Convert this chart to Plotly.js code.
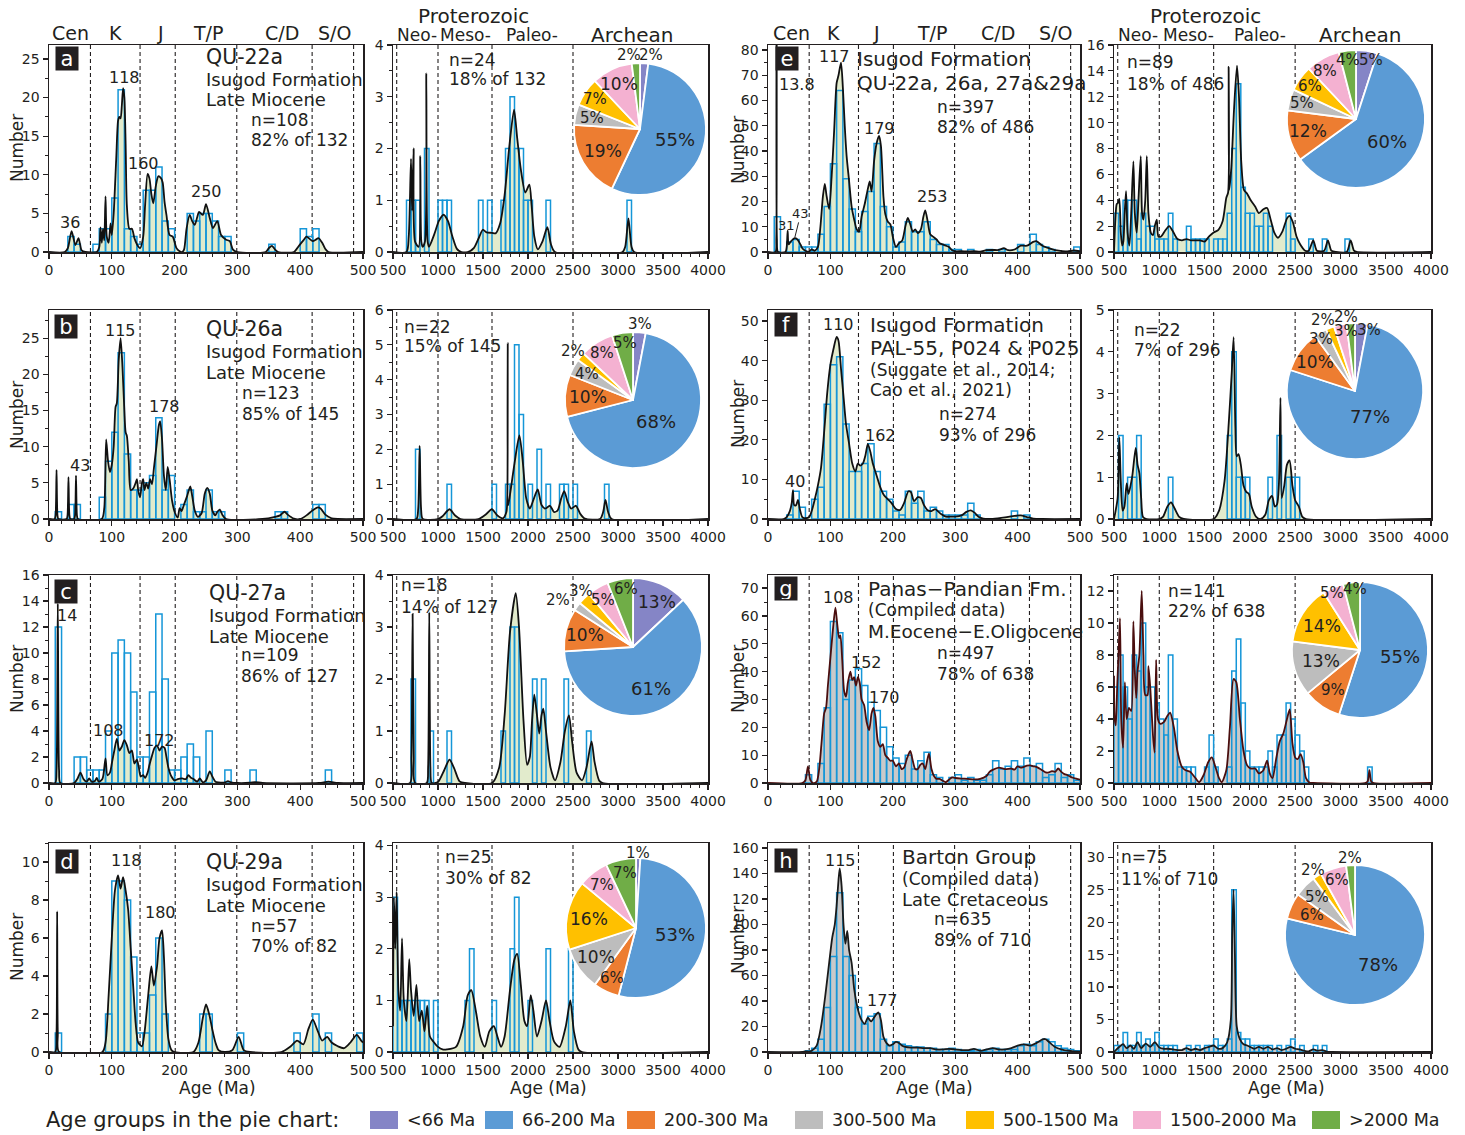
<!DOCTYPE html>
<html><head><meta charset="utf-8">
<script src="https://cdn.plot.ly/plotly-3.0.1.min.js"></script>
<style>html,body{margin:0;padding:0;background:#fff}#chart{width:1465px;height:1135px}</style>
</head><body><div id="chart"></div>
<script>
// ---------------- DATA ----------------
// Histogram bins: start age (Ma) and count; young panels 10 Ma bins, old panels 50 Ma bins
const aYoungBinStart=[30,40,70,80,90,100,110,120,130,140,150,160,170,180,190,220,230,240,250,260,270,280,350,400,410,420];
const aYoungCount=[2,1,1,3,3,7,21,3,2,1,8,8,11,4,3,5,4,5,5,4,2,2,1,3,2,3];
const aYoungKde=[[0,0],[25,0],[30,0.5],[36,2.7],[42,0.9],[47,1.8],[52,0.2],[58,0],[76,0],[80,0.6],[82,3.2],[84,1.2],[86,3],[88,1.5],[90,7.2],[92,2],[95,1.2],[98,3.7],[100,2.2],[103,5],[107,12],[110,17],[112,17.5],[114,17.3],[116,19],[118,21.2],[120,20],[122,14],[124,6],[128,3],[132,3],[136,1.8],[140,1],[145,0.5],[150,2],[153,6],[157,10.1],[160,9.5],[163,7.5],[166,6.3],[170,8.5],[174,9.8],[178,9.6],[181,9],[184,6.5],[187,4.8],[192,2.2],[197,2],[203,0.5],[208,0.1],[212,0],[215,0.3],[219,3],[224,4.8],[228,4],[232,3.5],[236,4.5],[239,5.2],[245,4.8],[250,6.2],[256,4.4],[261,3.1],[268,4],[274,2.2],[282,1.6],[288,1.4],[293,0.3],[300,0],[345,0],[350,0.5],[355,0.8],[360,0.3],[365,0],[390,0],[398,0.8],[405,1.5],[410,2],[415,1.7],[420,1.4],[425,1.6],[429,1.8],[435,1.2],[440,0.4],[445,0],[500,0]];
const aOldBinStart=[650,700,750,850,1000,1050,1100,1450,1550,1700,1750,1800,1850,1900,1950,2000,2200,3100];
const aOldCount=[1,1,1,2,1,1,1,1,1,1,2,3,2,2,1,1,1,1];
const aOldKde=[[500,0],[650,0],[675,0.3],[700,1.8],[712,0.8],[729,2.0],[745,0.2],[785,0.1],[803,1.85],[815,0.2],[830,0.1],[855,0.2],[870,3.45],[885,0.2],[900,0.1],[960,0.35],[1010,0.6],[1062,0.72],[1110,0.6],[1160,0.3],[1210,0.06],[1260,0],[1330,0],[1400,0.08],[1460,0.3],[1498,0.43],[1540,0.38],[1600,0.37],[1640,0.36],[1690,0.55],[1740,1.1],[1790,2.0],[1845,2.75],[1880,2.2],[1920,1.6],[1970,1.15],[2015,1.3],[2040,0.9],[2070,0.3],[2110,0.05],[2160,0.2],[2215,0.48],[2255,0.15],[2300,0],[3050,0],[3080,0.1],[3116,0.65],[3150,0.1],[3180,0],[4000,0]];

const bYoungBinStart=[10,30,40,80,90,100,110,120,130,140,150,160,170,180,190,210,220,230,240,250,260,270,360,370,420,430];
const bYoungCount=[1,2,2,3,8,12,23,9,4,4,5,6,14,4,6,2,4,1,1,4,1,1,1,1,2,2];
const bYoungKde=[[0,0],[9,0],[10.5,0.5],[12,6.8],[13.5,0.5],[15,0],[28,0],[29.5,0.5],[31,5.8],[32.5,0.5],[34,0],[40,0],[41.5,0.5],[43,6],[44.5,0.5],[46,0],[84,0],[88,1.5],[91,11],[94,8],[97,6.5],[100,7.5],[103,10],[106,15.5],[108,16],[111,22],[114,25],[117,21],[120,15],[122,12],[124,11.5],[127,8],[130,4],[134,4.2],[138,5],[140,5.5],[142,4],[145,3],[148,5],[150,5.5],[152,4],[155,5],[158,4.2],[161,5.5],[164,4.8],[167,7],[171,10],[175,13],[177,13.5],[180,11],[183,6],[186,4],[189,7.2],[192,5.5],[196,2.5],[200,1],[205,0.2],[208,1.5],[211,1.1],[215,2],[220,3.2],[225,4.5],[228,3.2],[232,1.2],[237,0.3],[243,0.8],[248,3.5],[252,4.3],[256,3.5],[260,1.2],[265,0.5],[268,1],[272,1.3],[276,0.6],[282,0],[340,0],[360,0.3],[368,0.5],[375,1],[380,0.6],[390,0.05],[400,0],[410,0.5],[420,1.2],[428,1.6],[432,1.5],[440,0.6],[450,0.1],[460,0],[500,0]];
const bOldBinStart=[750,1100,1600,1750,1800,1850,1900,2000,2100,2200,2350,2400,2500,2850];
const bOldCount=[2,1,1,1,1,5,3,1,2,1,1,1,1,1];
const bOldKde=[[500,0],[760,0],[780,0.3],[796,2.1],[812,0.3],[830,0],[1000,0],[1050,0.08],[1128,0.28],[1190,0.1],[1250,0],[1450,0],[1540,0.15],[1598,0.28],[1660,0.1],[1720,0.02],[1760,0.2],[1770,0.6],[1775,5.05],[1780,0.4],[1800,0.7],[1850,1.6],[1904,2.4],[1940,1.7],[1980,0.6],[2020,0.3],[2060,0.55],[2108,0.85],[2150,0.4],[2190,0.3],[2244,0.38],[2290,0.2],[2330,0.25],[2370,0.6],[2403,0.8],[2440,0.5],[2480,0.3],[2533,0.38],[2580,0.15],[2630,0.01],[2800,0],[2835,0.2],[2861,0.55],[2890,0.2],[2930,0],[4000,0]];

const cYoungBinStart=[10,40,50,60,70,80,90,100,110,120,130,140,150,160,170,180,190,200,210,220,230,250,280,320,440];
const cYoungCount=[12,2,2,1,1,1,4,10,11,10,7,2,2,7,13,8,1,1,2,3,2,4,1,1,1];
const cYoungKde=[[0,0],[10,0],[12,1],[14,13.8],[16,1],[18,0],[40,0],[45,0.3],[50,0.8],[55,0.3],[60,0.1],[64,0.35],[68,0.1],[73,0.15],[76,0.4],[79,0.1],[85,0.3],[90,1.9],[93,0.6],[97,0.8],[100,1.5],[104,2.5],[108,3.4],[112,2.5],[116,2.8],[120,3.3],[124,2.9],[128,2.3],[132,2.5],[136,1.5],[140,1.8],[143,1.2],[146,0.5],[150,0.6],[153,0.4],[157,0.8],[160,1.4],[164,2.1],[168,2.7],[172,2.9],[176,2.5],[180,2.8],[184,2.7],[187,2],[190,1.2],[195,0.5],[200,0.2],[205,0.3],[212,0.35],[218,0.3],[222,0.6],[226,0.4],[230,0.3],[236,0.1],[240,0.35],[245,0.05],[250,0.2],[256,0.9],[260,0.5],[265,0.1],[270,0.05],[280,0.05],[285,0.15],[290,0.05],[300,0],[320,0.02],[328,0.07],[340,0],[430,0],[445,0.1],[460,0],[500,0]];
const cOldBinStart=[700,900,1100,1700,1800,1850,2050,2150,2400,2650];
const cOldCount=[2,1,1,1,3,3,2,2,2,1];
const cOldKde=[[500,0],[690,0],[705,0.5],[718,3.25],[731,0.5],[745,0],[875,0],[890,0.3],[903,3.28],[916,0.3],[930,0],[1000,0.02],[1070,0.25],[1128,0.45],[1180,0.28],[1240,0.03],[1300,0],[1600,0],[1680,0.3],[1740,1.3],[1800,2.9],[1864,3.65],[1900,3.0],[1950,1.2],[1990,0.35],[2020,0.5],[2045,1.2],[2070,1.7],[2100,1.3],[2125,0.95],[2150,1.3],[2170,1.43],[2200,1.0],[2250,0.3],[2300,0.05],[2360,0.4],[2410,1.0],[2455,1.3],[2490,0.8],[2540,0.2],[2600,0.05],[2650,0.3],[2706,0.8],[2740,0.4],[2790,0.05],[2830,0],[4000,0]];

const dYoungBinStart=[10,90,100,110,120,130,140,150,160,170,180,240,250,300,390,420,440,490];
const dYoungCount=[1,2,9,9,8,5,1,1,3,6,2,2,2,1,1,2,1,1];
const dYoungKde=[[0,0],[10,0],[12,1],[13,7.4],[14,1],[16,0],[85,0],[90,0.5],[95,3],[100,6],[105,8.5],[110,9.3],[114,8.6],[118,9.2],[122,8.5],[126,7.5],[130,5.5],[134,3.5],[138,1.5],[142,0.5],[148,0.3],[152,1],[158,3],[163,4.5],[167,3.5],[172,4.5],[176,6],[180,6.4],[183,5],[186,2.5],[190,0.7],[195,0.1],[200,0],[230,0],[238,0.5],[245,1.8],[250,2.5],[255,2],[260,1.2],[265,0.5],[270,0.1],[280,0],[292,0.1],[302,0.8],[310,0.1],[320,0],[370,0],[385,0.3],[395,0.6],[405,0.4],[413,1.2],[420,1.7],[428,1.1],[435,0.6],[443,0.8],[450,0.5],[460,0.3],[470,0.2],[480,0.5],[490,0.9],[497,0.6],[500,0.5]];
const dOldBinStart=[500,550,600,650,700,750,800,850,950,1300,1350,1600,1800,1850,2000,2200,2450];
const dOldCount=[3,1,1,1,1,1,1,1,1,1,2,1,2,3,1,2,2];
const dOldKde=[[500,0.5],[510,3.0],[525,2.0],[540,3.1],[560,1.2],[580,0.8],[600,2.2],[620,1.0],[650,0.6],[680,1.8],[700,1.2],[730,0.7],[760,1.3],[790,0.6],[820,0.8],[850,0.4],[880,0.9],[910,0.3],[950,0.2],[1000,0.1],[1050,0.05],[1100,0.05],[1200,0.1],[1280,0.5],[1330,1.1],[1370,1.2],[1420,0.8],[1470,0.3],[1520,0.1],[1570,0.4],[1620,0.5],[1660,0.3],[1700,0.1],[1740,0.3],[1800,1.2],[1850,1.8],[1880,1.9],[1920,1.3],[1960,0.6],[1990,0.5],[2030,1.1],[2060,0.8],[2100,0.3],[2150,0.6],[2200,1.0],[2240,0.6],[2290,0.2],[2350,0.1],[2420,0.5],[2470,1.0],[2510,0.4],[2560,0.05],[2600,0],[4000,0]];

const eYoungBinStart=[10,30,40,50,60,70,80,90,100,110,120,130,140,150,160,170,180,190,200,210,220,230,240,250,260,270,280,290,300,320,350,370,400,420,430,440,450,490];
const eYoungCount=[14,4,5,2,2,2,7,18,35,64,29,17,8,16,24,43,18,10,2,4,12,8,8,12,5,3,3,1,1,1,1,1,3,7,3,2,1,2];
const eYoungKde=[[0,0],[12,0],[13.3,5],[13.8,120],[14.3,5],[16,0],[28,0],[30,2],[31.5,8.5],[33,3],[36,4],[40,5],[43,5.5],[47,5],[52,3],[55,1.5],[60,0.5],[65,0],[70,1],[75,0.5],[80,2],[84,10],[88,22],[91,27],[94,22],[98,17],[102,30],[106,48],[110,67],[113,70],[117,75],[120,65],[123,50],[126,38],[130,28],[134,18],[138,13],[142,9],[146,8],[150,14],[155,19],[160,25],[163,28],[166,24],[170,36],[174,43],[178,46],[181,42],[185,22],[188,15],[192,12],[196,11],[200,6],[205,2],[210,3.5],[215,4.5],[220,10],[224,13.5],[228,11],[232,8],[236,9],[240,7.5],[245,9],[249,14],[252,16.5],[256,12],[260,7],[265,6],[270,5],[275,3.5],[280,3],[285,2.5],[290,2],[295,0.7],[300,0.3],[310,0.3],[320,0.2],[330,0.3],[340,0.1],[350,0.7],[360,0.8],[370,0.8],[378,1.5],[385,0.7],[395,1],[405,2.5],[415,2.5],[425,4],[430,4.3],[440,2.5],[450,1.5],[460,0.7],[470,0.4],[480,0.2],[490,0.6],[500,0.3]];
const eOldBinStart=[500,550,600,650,700,750,800,850,900,950,1000,1050,1100,1150,1300,1350,1400,1450,1500,1600,1650,1700,1750,1800,1850,1900,1950,2000,2050,2100,2150,2200,2400,2450,2650,2800,3050];
const eOldCount=[3,2,4,4,4,1,3,2,2,1,1,1,3,1,2,1,1,1,1,1,1,1,3,8,13,5,3,3,2,2,3,2,3,1,1,1,1];
const eOldKde=[[500,0],[515,2.5],[530,3.7],[545,3.8],[559,4.1],[575,1.5],[590,0.5],[603,0.8],[618,3],[633,4.7],[650,1.5],[670,0.5],[690,3],[714,7.0],[730,3],[751,1.5],[770,4],[795,7.4],[810,3],[825,2.5],[845,4],[862,7.4],[880,3],[906,1.5],[930,1.3],[950,2],[972,2.5],[990,1.2],[1020,1.2],[1060,1.6],[1109,2.0],[1150,1.6],[1200,1.0],[1250,0.9],[1300,1.0],[1350,0.9],[1400,0.9],[1450,0.9],[1500,0.8],[1550,1.2],[1600,1.5],[1650,1.7],[1700,2.4],[1740,4.2],[1760,4.6],[1766,14.3],[1772,4.8],[1795,6.5],[1825,11],[1858,14.4],[1880,12],[1905,7],[1935,4.8],[1970,4.5],[2010,4],[2060,3.5],[2100,3],[2150,3.3],[2190,3.4],[2230,2.5],[2270,1.5],[2310,1.1],[2360,1.6],[2410,2.6],[2438,2.8],[2475,2.3],[2515,1.2],[2555,0.6],[2610,0.1],[2650,0.1],[2700,0.9],[2740,0.1],[2820,0.1],[2862,0.9],[2900,0.1],[2950,0],[3070,0],[3113,0.9],[3150,0.1],[3180,0],[4000,0]];

const fYoungBinStart=[30,40,50,70,80,90,100,110,120,130,140,150,160,170,180,190,200,210,220,230,240,250,260,270,280,290,300,310,320,330,390,410];
const fYoungCount=[1,7,3,5,8,29,39,41,24,12,12,14,19,12,7,5,2,1,7,4,7,2,3,2,1,1,1,1,4,1,2,1];
const fYoungKde=[[0,0],[25,0],[30,0.5],[35,2],[38,4],[40,7.3],[42,3.5],[45,3.5],[48,4.8],[51,2.5],[55,0.5],[60,0.2],[66,0.5],[70,2],[75,5],[80,8.5],[85,13],[90,22],[95,32],[100,39],[105,43],[110,46],[113,45],[117,38],[121,31],[125,24],[130,19],[135,14],[140,12],[144,14],[148,13.5],[152,14],[156,16],[160,19],[164,17],[168,14],[172,12],[176,10],[180,8],[186,6],[192,5],[198,4],[205,2.5],[212,2.3],[218,4],[225,7],[229,6.8],[234,4.5],[240,5.5],[245,5.3],[250,3.5],[256,2.2],[262,2],[268,2.5],[272,2],[278,1.2],[285,0.6],[292,0.6],[300,0.6],[310,0.9],[318,1.8],[325,2.2],[331,1.6],[338,0.5],[345,0.1],[360,0.05],[380,0.4],[395,0.8],[405,0.9],[415,0.5],[425,0.1],[440,0],[500,0]];
const fOldBinStart=[550,650,700,750,1100,1750,1800,1850,1900,1950,2200,2300,2400,2450,2500];
const fOldCount=[2,1,1,2,1,2,4,1,1,1,1,2,1,1,1];
const fOldKde=[[500,0],[540,0.5],[559,1.95],[575,0.9],[595,0.2],[615,0.3],[640,0.85],[660,0.6],[700,1.0],[740,1.7],[760,1.3],[780,1.1],[800,0.5],[820,0.05],[860,0],[1000,0],[1040,0.05],[1090,0.3],[1130,0.4],[1170,0.25],[1220,0.05],[1270,0],[1600,0],[1660,0.2],[1720,0.9],[1770,2.4],[1800,3.5],[1821,4.35],[1840,2.2],[1855,1.5],[1875,1.55],[1900,1.3],[1930,0.8],[1960,0.65],[1990,0.6],[2020,0.3],[2070,0.05],[2120,0],[2170,0.1],[2210,0.45],[2246,0.55],[2275,0.3],[2300,0.35],[2320,0.8],[2338,2.9],[2352,0.5],[2380,0.8],[2410,1.3],[2438,1.4],[2470,0.8],[2500,0.45],[2540,0.3],[2580,0.05],[2620,0],[4000,0]];

const gYoungBinStart=[60,80,90,100,110,120,130,140,150,160,170,180,190,200,210,220,230,240,250,260,270,290,300,310,320,330,340,350,360,370,380,390,400,410,420,430,440,450,460,470,480,490];
const gYoungCount=[3,7,27,58,54,30,37,41,35,29,26,20,13,9,7,10,5,8,11,3,2,2,3,1,2,1,1,3,8,5,6,8,6,9,6,7,2,3,7,2,3,1];
const gYoungKde=[[0,0],[55,0],[60,1],[64,6],[68,1],[72,0],[78,0.5],[82,5],[86,15],[90,25],[93,27],[96,35],[100,45],[104,55],[108,63],[111,57],[114,52],[116,53],[119,44],[122,33],[125,31],[128,36],[132,40],[135,37],[138,38],[141,35],[144,38],[147,36],[150,30],[154,28],[158,22],[162,19],[166,25],[169,27],[172,24],[176,15],[180,13],[184,14],[188,10],[192,9],[196,8],[200,8],[205,6],[210,7],[214,5],[218,5.5],[223,9],[228,11.5],[232,8],[236,5],[240,5],[244,6.5],[248,7],[252,5],[255,8],[258,10.5],[262,5],[266,2.5],[270,1.5],[275,1.5],[280,0.8],[285,0.3],[290,1.2],[295,2],[300,1.8],[310,1.6],[320,1.5],[330,1.3],[340,1.5],[350,2.5],[355,4],[360,4.7],[370,5.5],[380,5],[390,5.2],[395,4.8],[400,6],[405,5.5],[410,5.8],[415,6.2],[420,6.3],[425,6],[430,5.8],[435,5.2],[440,4.5],[445,3.8],[450,3.8],[455,4.3],[460,4],[465,5.2],[470,4],[475,3.2],[480,2.8],[485,2.2],[490,1.8],[495,1.5],[500,1.2]];
const gOldBinStart=[500,550,600,650,700,750,800,850,900,950,1000,1050,1100,1150,1200,1250,1300,1350,1500,1550,1600,1750,1800,1850,1900,1950,2000,2050,2100,2150,2200,2250,2300,2350,2400,2450,2500,2550,2600,3300];
const gOldCount=[6,8,6,4,8,7,10,6,6,5,4,3,8,4,1,1,1,1,1,3,1,1,7,9,5,2,1,1,1,1,2,1,3,3,5,4,3,2,1,1];
const gOldKde=[[500,6.7],[508,4],[520,3.6],[535,6],[550,8],[566,10.3],[580,4],[600,2.2],[620,6.3],[640,4],[665,4.7],[690,4.5],[714,10.1],[730,7],[745,5.3],[760,7],[780,8],[806,12],[825,8],[845,5.5],[870,5.5],[880,7.3],[900,6],[930,3],[948,1.9],[965,7.7],[985,4],[1010,3.7],[1050,3.8],[1090,4.2],[1120,4.4],[1160,3.5],[1200,2],[1250,1],[1290,0.8],[1340,0.7],[1400,0.3],[1440,0.05],[1490,0.5],[1540,1.3],[1580,1.6],[1620,1.0],[1660,0.3],[1690,0.05],[1740,0.8],[1780,3.5],[1820,6.5],[1850,6.3],[1890,4],[1930,2],[1970,1.1],[2010,0.9],[2060,0.9],[2100,0.6],[2150,0.8],[2190,1.4],[2220,0.6],[2250,0.3],[2290,1.5],[2330,2.6],[2370,3.1],[2410,4],[2440,4.6],[2470,2.5],[2500,1.6],[2530,1.5],[2560,1.8],[2590,1.3],[2620,0.3],[2660,0.02],[2700,0],[3270,0],[3300,0.1],[3320,0.8],[3340,0.1],[3370,0],[4000,0]];

const hYoungBinStart=[60,70,80,90,100,110,120,130,140,150,160,170,180,190,200,210,220,230,240,250,260,270,280,290,300,310,320,330,340,350,360,370,380,390,400,410,420,430,440,450,460,470,480,490];
const hYoungCount=[1,3,10,35,75,125,75,60,35,22,28,30,10,5,8,6,5,4,4,3,3,2,2,3,2,1,1,2,1,2,3,2,2,2,5,6,5,8,10,8,5,3,2,1];
const hYoungKde=[[0,0],[55,0],[60,0.5],[65,0.3],[70,1],[78,5],[85,20],[92,45],[98,70],[103,90],[107,100],[110,115],[113,135],[115,144],[118,130],[121,100],[124,85],[127,95],[130,80],[134,70],[138,50],[142,38],[146,30],[150,25],[155,22],[160,27],[165,24],[170,27],[174,30],[177,31],[181,25],[185,12],[190,7],[195,5],[200,6],[205,8],[210,7],[215,5],[220,4],[230,3.5],[240,3.5],[250,3],[260,3],[270,2],[280,2],[290,2.5],[300,2],[310,1.5],[320,1.5],[330,2.5],[340,1],[350,2],[360,3],[370,2],[380,2],[390,3],[400,5],[410,6],[420,5],[430,7],[440,10],[445,10],[450,8],[460,4],[470,2],[480,1],[490,0.5],[500,0.3]];
const hOldBinStart=[500,550,600,650,700,750,800,850,900,950,1000,1050,1100,1150,1300,1400,1500,1550,1600,1650,1700,1750,1800,1850,1900,1950,2000,2050,2100,2150,2200,2300,2400,2450,2550,2700,2800];
const hOldCount=[1,1,3,1,1,3,1,2,1,3,1,1,1,1,1,1,1,1,2,1,1,2,25,3,2,2,1,1,1,1,1,1,1,2,1,1,1];
const hOldKde=[[500,0],[520,0.3],[560,0.8],[600,1.2],[640,0.6],[680,1.0],[720,0.5],[760,1.5],[800,0.6],[850,1.3],[900,0.8],[950,1.5],[1000,0.7],[1050,0.5],[1100,0.5],[1150,0.4],[1200,0.3],[1250,0.3],[1300,0.6],[1350,0.3],[1400,0.5],[1450,0.3],[1500,0.6],[1550,0.8],[1600,1.0],[1650,0.5],[1700,0.6],[1750,1.5],[1790,5],[1805,18],[1820,25],[1835,15],[1855,4],[1890,2],[1930,1.2],[1970,1],[2000,0.8],[2050,0.5],[2100,0.8],[2150,0.5],[2200,0.8],[2250,0.4],[2300,0.6],[2350,0.3],[2400,0.5],[2450,0.8],[2500,0.5],[2550,0.4],[2600,0.2],[2650,0.1],[2700,0.4],[2750,0.2],[2800,0.3],[2850,0.05],[2900,0],[4000,0]];

// Pie data (%): order = ageGroups
const ageGroups=['<66 Ma','66-200 Ma','200-300 Ma','300-500 Ma','500-1500 Ma','1500-2000 Ma','>2000 Ma'];
const pieA=[2,55,19,5,7,10,2];
const pieB=[3,68,10,4,2,8,5];
const pieC=[13,61,10,2,3,5,6];
const pieD=[1,53,6,10,16,7,7];
const pieE=[5,60,12,5,6,8,4];
const pieF=[3,77,10,3,2,3,2];
const pieG=[0,55,9,13,14,5,4];
const pieH=[0,78,6,5,2,6,2];

const youngBounds=[66,145,201,299,419,485];
const oldBounds=[541,1000,1600,2500];

// ---------------- LAYOUT / STYLE ----------------
const W=1465,H=1135;
const FONT='DejaVu Sans, Liberation Sans, Arial, sans-serif';
const TXT='#231f20';
const BAR='#1596d8';
const groupColors=['#8585c6','#5b9bd5','#ed7d31','#bdbdbd','#ffc000','#f4b1d1','#70ad47'];
const colX=[[49,363],[393,708],[768,1080],[1114,1431]];
const rowY=[[45,252],[310,519],[575,783],[843,1052]];
const GREEN={fill:'#e2ebcc',line:'#111111'};
const GREY={fill:'#c9c9c9',line:'#4a0e0e'};
const GREY2={fill:'#c9c9c9',line:'#1a1a1a'};

const panels=[
 {c:0,r:0,s:aYoungBinStart,n:aYoungCount,k:aYoungKde,ymax:26.8,dt:5,st:GREEN},
 {c:1,r:0,s:aOldBinStart,n:aOldCount,k:aOldKde,ymax:4,dt:1,st:GREEN},
 {c:0,r:1,s:bYoungBinStart,n:bYoungCount,k:bYoungKde,ymax:28.9,dt:5,st:GREEN},
 {c:1,r:1,s:bOldBinStart,n:bOldCount,k:bOldKde,ymax:6,dt:1,st:GREEN},
 {c:0,r:2,s:cYoungBinStart,n:cYoungCount,k:cYoungKde,ymax:16,dt:2,st:GREEN},
 {c:1,r:2,s:cOldBinStart,n:cOldCount,k:cOldKde,ymax:4,dt:1,st:GREEN},
 {c:0,r:3,s:dYoungBinStart,n:dYoungCount,k:dYoungKde,ymax:11,dt:2,st:GREEN},
 {c:1,r:3,s:dOldBinStart,n:dOldCount,k:dOldKde,ymax:4.05,dt:1,st:GREEN},
 {c:2,r:0,s:eYoungBinStart,n:eYoungCount,k:eYoungKde,ymax:82,dt:10,st:GREEN},
 {c:3,r:0,s:eOldBinStart,n:eOldCount,k:eOldKde,ymax:16,dt:2,st:GREEN},
 {c:2,r:1,s:fYoungBinStart,n:fYoungCount,k:fYoungKde,ymax:52.8,dt:10,st:GREEN},
 {c:3,r:1,s:fOldBinStart,n:fOldCount,k:fOldKde,ymax:5,dt:1,st:GREEN},
 {c:2,r:2,s:gYoungBinStart,n:gYoungCount,k:gYoungKde,ymax:74.7,dt:10,st:GREY},
 {c:3,r:2,s:gOldBinStart,n:gOldCount,k:gOldKde,ymax:13,dt:2,st:GREY},
 {c:2,r:3,s:hYoungBinStart,n:hYoungCount,k:hYoungKde,ymax:164,dt:20,st:GREY2},
 {c:3,r:3,s:hOldBinStart,n:hOldCount,k:hOldKde,ymax:32.2,dt:5,st:GREY2}
];

const traces=[];
const layout={width:W,height:H,margin:{l:0,r:0,t:0,b:0},paper_bgcolor:'#fff',plot_bgcolor:'rgba(0,0,0,0)',
  showlegend:false,barmode:'overlay',shapes:[],annotations:[],font:{family:FONT,color:TXT}};
const nm=k=>k===1?'':String(k);

panels.forEach((p,i)=>{
  const k=i+1, ko=k+16;
  const xn='x'+nm(k), yn='y'+nm(k), yon='y'+ko;
  const young=(p.c%2===0);
  const xr=young?[0,500]:[500,4000];
  layout['xaxis'+nm(k)]={domain:[colX[p.c][0]/W,colX[p.c][1]/W],range:xr,anchor:yn,
    tickmode:'linear',tick0:young?0:500,dtick:young?100:500,ticks:'outside',ticklen:5,tickwidth:1.2,tickcolor:TXT,
    showline:true,linecolor:TXT,linewidth:1.5,mirror:true,showgrid:false,zeroline:false,fixedrange:true,
    tickfont:{family:FONT,size:14,color:TXT},
    minor:{dtick:young?20:100,ticks:'outside',ticklen:3,tickwidth:1,tickcolor:TXT,showgrid:false}};
  layout['yaxis'+nm(k)]={domain:[1-rowY[p.r][1]/H,1-rowY[p.r][0]/H],range:[0,p.ymax],anchor:xn,
    tickmode:'linear',tick0:0,dtick:p.dt,ticks:'outside',ticklen:5,tickwidth:1.2,tickcolor:TXT,
    showline:true,linecolor:TXT,linewidth:1.5,mirror:true,showgrid:false,zeroline:false,fixedrange:true,
    tickfont:{family:FONT,size:14,color:TXT},
    minor:{dtick:p.dt/2,ticks:'outside',ticklen:3,tickwidth:1,tickcolor:TXT,showgrid:false}};
  layout['yaxis'+ko]={overlaying:yn,range:[0,p.ymax],anchor:xn,visible:false,fixedrange:true};
  const kx=p.k.map(d=>d[0]), ky=p.k.map(d=>d[1]);
  traces.push({type:'scatter',mode:'lines',x:kx,y:ky,xaxis:xn,yaxis:yn,fill:'tozeroy',fillcolor:p.st.fill,
    line:{width:0,shape:'spline',smoothing:0.7},hoverinfo:'skip'});
  traces.push({type:'bar',x:p.s,y:p.n,xaxis:xn,yaxis:yon,width:young?10:50,offset:0,
    marker:{color:'rgba(0,0,0,0)',line:{color:BAR,width:1.5}},hoverinfo:'skip'});
  traces.push({type:'scatter',mode:'lines',x:kx,y:ky,xaxis:xn,yaxis:yon,
    line:{color:p.st.line,width:1.8,shape:'spline',smoothing:0.7},hoverinfo:'skip'});
  (young?youngBounds:oldBounds).forEach(b=>{
    layout.shapes.push({type:'line',xref:xn,yref:yn+' domain',x0:b,x1:b,y0:0,y1:1,layer:'below',
      line:{color:TXT,width:1.1,dash:'4px,3px'}});
  });
});

// annotations helper
function T(text,px,py,size,anchor,extra){
  return Object.assign({xref:'paper',yref:'paper',x:px/W,y:1-py/H,text:text,showarrow:false,
    xanchor:anchor||'left',yanchor:'middle',font:{family:FONT,size:size,color:TXT}},extra||{});
}
const A=layout.annotations;

// pies: geometry (center x, center y, radius in px) and label radial position (fraction of radius) per slice
const pieData=[pieA,pieB,pieC,pieD,pieE,pieF,pieG,pieH];
const pieGeom=[[640,129,66],[633,400,68],[633,647,69],[636,928,70],[1356,119,69],[1355,391,68],[1360,650,68],[1355,935,70]];
const pieLabelR=[
 [1.12,0.56,0.66,0.74,0.82,0.76,1.12],
 [1.12,0.47,0.66,0.78,1.14,0.82,0.85],
 [0.71,0.66,0.72,1.17,1.14,0.79,0.85],
 [1.07,0.57,0.79,0.71,0.69,0.77,0.80],
 [0.86,0.55,0.72,0.81,0.82,0.80,0.86],
 [0.90,0.43,0.73,0.88,1.12,0.90,1.09],
 [0.90,0.59,0.71,0.60,0.66,0.92,0.90],
 [0.90,0.54,0.68,0.77,1.10,0.83,1.10]
];
pieData.forEach((v,i)=>{
  const [cx,cy,r]=pieGeom[i];
  traces.push({type:'pie',labels:ageGroups,values:v,sort:false,direction:'clockwise',rotation:0,
    domain:{x:[(cx-r)/W,(cx+r)/W],y:[1-(cy+r)/H,1-(cy-r)/H]},
    marker:{colors:groupColors,line:{color:'#ffffff',width:1.8}},
    textinfo:'none',hoverinfo:'skip',showlegend:false});
  const tot=v.reduce((a,b)=>a+b,0);
  let cum=0; const labs=[];
  v.forEach((val,j)=>{
    const mid=(cum+val/2)/tot*2*Math.PI; cum+=val;
    if(val<=0) return;
    const f=pieLabelR[i][j];
    const size = val>20?18:(val>=10?17:15);
    const txt=val+'%';
    labs.push({txt,size,x:cx+Math.sin(mid)*f*r,y:cy-Math.cos(mid)*f*r,w:size*0.76*txt.length});
  });
  // simple horizontal de-overlap of neighbouring labels
  for(let it=0;it<8;it++){
    for(let a=0;a<labs.length;a++)for(let b=a+1;b<labs.length;b++){
      const L1=labs[a],L2=labs[b];
      const need=(L1.w+L2.w)/2, dx=L2.x-L1.x;
      if(Math.abs(L2.y-L1.y)<14 && Math.abs(dx)<need){
        const push=(need-Math.abs(dx))/2, s=dx>=0?1:-1;
        L1.x-=s*push; L2.x+=s*push;
      }
    }
  }
  labs.forEach(L=>A.push(T(L.txt,L.x,L.y,L.size,'center')));
});

// period labels
[['Cen',70],['K',115],['J',160],['T/P',208],['C/D',282],['S/O',334]].forEach(d=>A.push(T(d[0],d[1],33,19,'center')));
[['Cen',791],['K',833],['J',876],['T/P',932],['C/D',998],['S/O',1055]].forEach(d=>A.push(T(d[0],d[1],33,19,'center')));
[[474,417,465,532,632],[1205,1138,1188,1260,1360]].forEach(c=>{
  A.push(T('Proterozoic',c[0],16,20,'center'));
  A.push(T('Neo-',c[1],35,17,'center'));
  A.push(T('Meso-',c[2],35,17,'center'));
  A.push(T('Paleo-',c[3],35,17,'center'));
  A.push(T('Archean',c[4],35,20,'center'));
});
// panel letters
[['a',67,59],['b',66,326],['c',66,591],['d',67,861],['e',787,59],['f',786,324],['g',786,589],['h',786,860]].forEach(d=>{
  A.push(T(d[0],d[1],d[2],21,'center',{bgcolor:TXT,width:20,height:21,font:{family:FONT,size:21,color:'#ffffff'}}));
});
// column 1 texts
const c1=[
 ['QU-22a',204,57,20.5],['Isugod Formation',204,79,18],['Late Miocene',204,99,18],['n=108',249,120,17],['82% of 132',249,140,17],
 ['QU-26a',204,329,20.5],['Isugod Formation',204,351,18],['Late Miocene',204,372,18],['n=123',240,393,17],['85% of 145',240,414,17],
 ['QU-27a',207,593,20.5],['Isugod Formation',207,615,18],['Late Miocene',207,636,18],['n=109',239,655,17],['86% of 127',239,676,17],
 ['QU-29a',204,862,20.5],['Isugod Formation',204,884,18],['Late Miocene',204,905,18],['n=57',249,926,17],['70% of 82',249,946,17]
];
c1.forEach(d=>A.push(T(d[0],d[1],d[2],d[3])));
// peak labels (centered)
const peaks=[
 ['36',70,222,16],['118',124,77,16],['160',143,163,16],['250',206,192,16],
 ['115',120,330,16],['178',164,406,16],['43',80,466,16],
 ['14',67,615,16],['108',108,730,16],['172',159,740,16],
 ['118',126,860,16],['180',160,912,16],
 ['117',834,56,16],['13.8',797,84,16],['179',879,128,16],['253',932,197,16],['31',786,226,13],
 ['110',838,324,16],['162',880,435,16],['40',795,481,16],
 ['108',838,597,16],['152',866,662,16],['170',884,697,16],
 ['115',840,860,16],['177',883,1000,16]
];
peaks.forEach(d=>A.push(T(d[0],d[1],d[2],d[3],'center')));
A.push({xref:'x9',yref:'y9',x:43,y:5.8,text:'43',showarrow:true,arrowhead:0,arrowwidth:1,arrowcolor:TXT,ax:6,ay:-24,
  font:{family:FONT,size:13,color:TXT}});
// column 2/4 texts
[
 ['n=24',447,60],['18% of 132',447,79],['n=22',402,327],['15% of 145',402,346],['n=18',399,585],['14% of 127',399,607],['n=25',443,857],['30% of 82',443,878],
 ['n=89',1125,62],['18% of 486',1125,84],['n=22',1132,330],['7% of 296',1132,350],['n=141',1166,591],['22% of 638',1166,611],['n=75',1119,857],['11% of 710',1119,879]
].forEach(d=>A.push(T(d[0],d[1],d[2],17)));
// column 3 texts
[
 ['Isugod Formation',855,59,20],['QU-22a, 26a, 27a&29a',855,83,20],['n=397',935,107,17],['82% of 486',935,127,17],
 ['Isugod Formation',868,325,20],['PAL-55, P024 & P025',868,348,20],['(Suggate et al., 2014;',868,370,17],['Cao et al., 2021)',868,390,17],['n=274',937,414,17],['93% of 296',937,435,17],
 ['Panas\u2212Pandian Fm.',866,589,20],['(Compiled data)',866,610,17],['M.Eocene\u2212E.Oligocene',866,631,18.5],['n=497',935,653,17],['78% of 638',935,674,17],
 ['Barton Group',900,857,20],['(Compiled data)',900,879,17],['Late Cretaceous',900,899,18],['n=635',932,919,17],['89% of 710',932,940,17]
].forEach(d=>A.push(T(d[0],d[1],d[2],d[3])));
// axis titles
[[17,148],[17,415],[17,679],[17,947],[738,150],[738,414],[738,679],[738,940]].forEach(d=>
  A.push(T('Number',d[0],d[1],17,'center',{textangle:-90})));
[217,548,934,1286].forEach(x=>A.push(T('Age (Ma)',x,1088,17,'center')));
// bottom legend
A.push(T('Age groups in the pie chart:',44,1120,21));
const legX=[370,485,627,795,966,1133,1312];
ageGroups.forEach((g,i)=>{
  layout.shapes.push({type:'rect',xref:'paper',yref:'paper',x0:legX[i]/W,x1:(legX[i]+28)/W,y0:1-1129/H,y1:1-1111/H,
    fillcolor:groupColors[i],line:{width:0}});
  A.push(T(g,legX[i]+35,1120,17.5));
});

Plotly.newPlot('chart',traces,layout,{staticPlot:true,displayModeBar:false});
</script></body></html>
